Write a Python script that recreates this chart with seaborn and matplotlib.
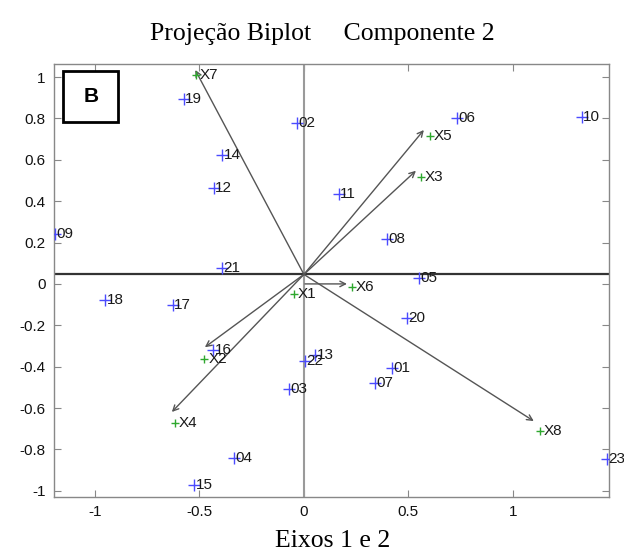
import numpy as np
import pandas as pd
import matplotlib
matplotlib.use("Agg")
import matplotlib.pyplot as plt
import seaborn as sns
from matplotlib.patches import Rectangle

# Observations (scores)
obs_labels = ["01", "02", "03", "04", "05", "06", "07", "08", "09", "10", "11", "12",
              "13", "14", "15", "16", "17", "18", "19", "20", "21", "22", "23"]
obs_x = [0.421, -0.033, -0.072, -0.335, 0.55, 0.732, 0.34, 0.397, -1.19, 1.33, 0.167, -0.431,
         0.053, -0.392, -0.526, -0.435, -0.627, -0.952, -0.574, 0.493, -0.392, 0.005, 1.45]
obs_y = [-0.407, 0.778, -0.508, -0.841, 0.031, 0.802, -0.48, 0.219, 0.24, 0.807, 0.436, 0.465,
         -0.345, 0.624, -0.971, -0.32, -0.104, -0.08, 0.894, -0.166, 0.075, -0.373, -0.846]

# Variables (loadings)
var_labels = ["X1", "X2", "X3", "X4", "X5", "X6", "X7", "X8"]
var_x = [-0.048, -0.478, 0.56, -0.617, 0.603, 0.23, -0.517, 1.129]
var_y = [-0.05, -0.364, 0.518, -0.672, 0.715, -0.017, 1.009, -0.711]

# Arrow vectors (start and tip)
arrow_labels = ["X2", "X3", "X4", "X5", "X6", "X7", "X8"]
arrow_x0 = [0.0, 0.0, 0.0, 0.0, 0.005, 0.0, 0.0]
arrow_y0 = [0.046, 0.046, 0.046, 0.046, 0.0, 0.046, 0.046]
arrow_x1 = [-0.474, 0.536, -0.632, 0.574, 0.206, -0.52, 1.10]
arrow_y1 = [-0.306, 0.547, -0.619, 0.744, 0.0, 1.034, -0.663]

x_ticks = [-1, -0.5, 0, 0.5, 1]
y_ticks = [-1, -0.8, -0.6, -0.4, -0.2, 0, 0.2, 0.4, 0.6, 0.8, 1]
title_text = "Projeção Biplot     Componente 2"
xlabel_text = "Eixos 1 e 2"
panel_text = "B"

sns.set_style("white")
plt.rcParams['font.family'] = ['Liberation Sans', 'DejaVu Sans']

fig = plt.figure(figsize=(6.24, 5.6), dpi=100)
ax = fig.add_axes([54/624, 1-497/560, (609-54)/624, (497-64)/560])

obs_df = pd.DataFrame({"x": obs_x, "y": obs_y, "label": obs_labels})
var_df = pd.DataFrame({"x": var_x, "y": var_y, "label": var_labels})

# axis lines
ax.axvline(0, color="#9a9a9a", lw=1.5, zorder=1)
ax.axhline(0.046, color="#333333", lw=1.6, zorder=1)

# arrows
for x0, y0, x1, y1 in zip(arrow_x0, arrow_y0, arrow_x1, arrow_y1):
    ax.annotate("", xy=(x1, y1), xytext=(x0, y0),
                arrowprops=dict(arrowstyle="->", color="#555555", lw=1.0,
                                shrinkA=0, shrinkB=0, mutation_scale=10), zorder=2)

sns.scatterplot(data=obs_df, x="x", y="y", marker="+", color="#4b4bff", s=70,
                linewidth=1.0, ax=ax, zorder=3, legend=False)
sns.scatterplot(data=var_df, x="x", y="y", marker="+", color="#2ea82e", s=40,
                linewidth=1.0, ax=ax, zorder=3, legend=False)

for x, y, t in zip(obs_x, obs_y, obs_labels):
    ax.annotate(t, (x, y), xytext=(1.0, 0), textcoords="offset points",
                ha="left", va="center", fontsize=11, color="#1a1a1a", zorder=4)
for x, y, t in zip(var_x, var_y, var_labels):
    ax.annotate(t, (x, y), xytext=(3, 0), textcoords="offset points",
                ha="left", va="center", fontsize=11, color="#1a1a1a", zorder=4)

ax.set_xlim(-1.196, 1.46)
ax.set_ylim(-1.03, 1.063)
ax.set_xticks(x_ticks)
ax.set_xticklabels(["-1", "-0.5", "0", "0.5", "1"])
ax.set_yticks(y_ticks)
ax.set_yticklabels(["-1", "-0.8", "-0.6", "-0.4", "-0.2", "0", "0.2", "0.4", "0.6", "0.8", "1"])
ax.tick_params(direction="in", length=5, width=0.8, color="#888888",
               top=True, right=True, bottom=True, left=True,
               labelsize=11, labelcolor="#111111", pad=6)
ax.set_xlabel("")
ax.set_ylabel("")
for sp in ax.spines.values():
    sp.set_color("#888888")
    sp.set_linewidth(1.0)
    sp.set_visible(True)

# panel box "B"
ax.add_patch(Rectangle((63/624, 1-122/560), (118-63)/624, (122-71)/560,
                       transform=fig.transFigure, fill=True, facecolor="white",
                       edgecolor="black", lw=2, zorder=5, clip_on=False))
fig.text(91/624, 1-97/560, panel_text, ha="center", va="center", fontsize=15,
         fontweight="bold", color="black", zorder=6)

fig.text(322/624, 1-34/560, title_text, ha="center", va="center", fontsize=18.5,
         family=["Liberation Serif", "DejaVu Serif"], color="black")
fig.text(333/624, 1-541/560, xlabel_text, ha="center", va="center", fontsize=18.5,
         family=["Liberation Serif", "DejaVu Serif"], color="black")

fig.savefig("out.png", dpi=100, facecolor="white")
